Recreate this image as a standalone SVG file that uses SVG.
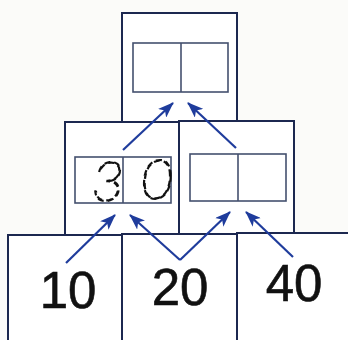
<svg xmlns="http://www.w3.org/2000/svg" width="348" height="340" viewBox="0 0 348 340">
<style>
.box{fill:#ffffff;stroke:#1c2850;stroke-width:2}
.cell{fill:#ffffff;stroke:#44506e;stroke-width:1.6}
.num{font-family:"Liberation Sans",Arial,sans-serif;font-size:51px;fill:#111111;stroke:#111111;stroke-width:0.6;text-anchor:middle}
.trace{font-family:Lato,"Liberation Sans",sans-serif;font-weight:100;font-style:italic;font-size:57px;fill:none;stroke:#111111;stroke-width:2.2;stroke-dasharray:6 4;text-anchor:middle}
.arr{stroke:#1f3c9c;stroke-width:2.2;fill:none;marker-end:url(#ah)}
</style>
<defs>
<marker id="ah" viewBox="0 0 16 12" refX="15" refY="6" markerWidth="16" markerHeight="12" markerUnits="userSpaceOnUse" orient="auto">
<path d="M0,0 L16,6 L0,12 L4,6 Z" fill="#1f3c9c"/>
</marker>
</defs>
<rect width="348" height="340" fill="#fbfbf9"/>
<g id="top">
<rect class="box" x="122" y="13" width="115" height="109"/>
<rect class="cell" x="133" y="43" width="95" height="49"/>
<line class="cell" x1="181" y1="43" x2="181" y2="92"/>
</g>
<g id="mid-left">
<rect class="box" x="65" y="122" width="114" height="113"/>
<rect class="cell" x="75" y="157" width="96" height="46"/>
<line class="cell" x1="123" y1="157" x2="123" y2="203"/>
<text class="trace" x="108" y="201">3</text>
<text class="trace" x="157" y="199">0</text>
</g>
<g id="mid-right">
<rect class="box" x="179" y="121" width="115" height="114"/>
<rect class="cell" x="190" y="154" width="96" height="47"/>
<line class="cell" x1="238" y1="154" x2="238" y2="201"/>
</g>
<g id="n10">
<rect class="box" x="8" y="235" width="114" height="115"/>
<text class="num" x="68" y="308">10</text>
</g>
<g id="n20">
<rect class="box" x="122" y="234" width="115" height="116"/>
<text class="num" x="180" y="305">20</text>
</g>
<g id="n40">
<rect class="box" x="237" y="233" width="120" height="117"/>
<text class="num" x="294" y="301">40</text>
</g>
<g id="connectors">
<line class="arr" x1="123" y1="150" x2="173" y2="103"/>
<line class="arr" x1="236" y1="148" x2="188" y2="103"/>
<line class="arr" x1="66" y1="263" x2="115" y2="215"/>
<line class="arr" x1="180" y1="260" x2="130" y2="215"/>
<line class="arr" x1="180" y1="260" x2="230" y2="212"/>
<line class="arr" x1="293" y1="257" x2="246" y2="212"/>
</g>
</svg>
